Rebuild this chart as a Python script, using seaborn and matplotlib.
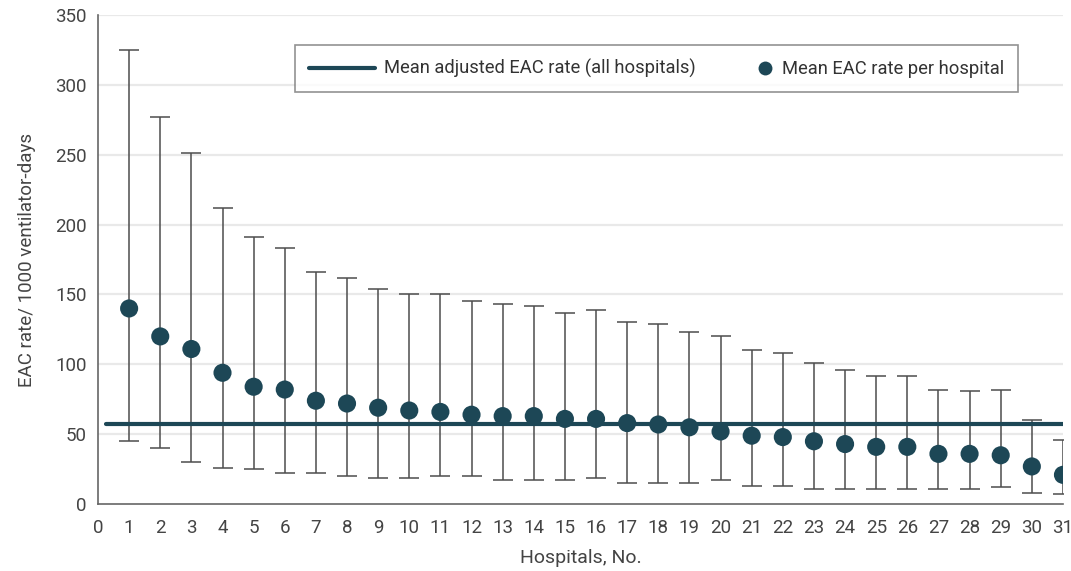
import numpy as np
import pandas as pd
import matplotlib
matplotlib.use("Agg")
import matplotlib.pyplot as plt
import seaborn as sns
from matplotlib.lines import Line2D
from matplotlib.legend_handler import HandlerLine2D

hospitals = list(range(1, 32))
mean_rate = [140, 120, 111, 94, 84, 82, 74, 72, 69, 67, 66, 64, 63, 63, 61, 61,
             58, 57, 55, 52, 49, 48, 45, 43, 41, 41, 36, 36, 35, 27, 21]
upper_ci = [325, 277, 251, 212, 191, 183, 166, 162, 154, 150, 150, 145, 143, 142, 137, 139,
            130, 129, 123, 120, 110, 108, 101, 96, 92, 92, 82, 81, 82, 60, 46]
lower_ci = [45, 40, 30, 26, 25, 22, 22, 20, 19, 19, 20, 20, 17, 17, 17, 19,
            15, 15, 15, 17, 13, 13, 11, 11, 11, 11, 11, 11, 12, 8, 7]
overall_mean = 57
xticks = list(range(0, 32))
yticks = [0, 50, 100, 150, 200, 250, 300, 350]

df = pd.DataFrame({"hospital": hospitals, "rate": mean_rate,
                   "lo": lower_ci, "hi": upper_ci})

sns.set_theme(style="white")
plt.rcParams['font.family'] = ['Roboto', 'DejaVu Sans']

teal = "#1d4756"
grey = "#4d4d4d"
txt = "#444444"


class RightMarkerHandler(HandlerLine2D):
    def create_artists(self, legend, orig_handle, xdescent, ydescent,
                       width, height, fontsize, trans):
        shift = width / 2 - 0.45 * fontsize
        return super().create_artists(legend, orig_handle, xdescent - shift, ydescent,
                                      width, height, fontsize, trans)


fig = plt.figure(figsize=(10.71, 5.71), dpi=100)
ax = fig.add_axes([0.0915, 0.117, 0.901, 0.857])

for y in yticks[1:]:
    ax.axhline(y, color="#e9e9e9", lw=1.6, zorder=0)

ax.errorbar(df["hospital"], df["rate"],
            yerr=[df["rate"] - df["lo"], df["hi"] - df["rate"]],
            fmt="none", ecolor=grey, elinewidth=1.1, capsize=7, capthick=1.1, zorder=2)

ax.axhline(overall_mean, xmin=0.008, xmax=1.0, color=teal, lw=3, zorder=3)

sns.scatterplot(data=df, x="hospital", y="rate", ax=ax, s=170, color=teal,
                edgecolor="none", zorder=4, legend=False)

ax.set_xlim(0, 31)
ax.set_ylim(0, 350)
ax.set_xticks(xticks)
ax.set_yticks(yticks)
ax.tick_params(axis="both", direction="out", length=5, width=1, color="#666666",
               labelsize=13.5, labelcolor=txt, pad=3)
ax.tick_params(axis="x", pad=6)
for s in ["top", "right"]:
    ax.spines[s].set_visible(False)
for s in ["left", "bottom"]:
    ax.spines[s].set_color("#666666")
    ax.spines[s].set_linewidth(1.2)

ax.set_xlabel("Hospitals, No.", fontsize=14, color=txt, labelpad=8)
ax.set_ylabel("EAC rate/ 1000 ventilator-days", fontsize=13.5, color=txt, labelpad=14)

line_handle = Line2D([0], [0], color=teal, lw=3)
dot_handle = Line2D([0], [0], marker="o", color="none", markerfacecolor=teal,
                    markeredgecolor="none", markersize=10)
labels = ["Mean adjusted EAC rate (all hospitals)", "Mean EAC rate per hospital"]
leg = ax.legend([line_handle, dot_handle], labels, loc="center",
                bbox_to_anchor=(0.579, 0.89), ncol=2,
                handler_map={dot_handle: RightMarkerHandler()},
                frameon=True, fancybox=False, fontsize=13.2, columnspacing=0.6,
                handlelength=3.6, handletextpad=0.5, borderpad=0.75,
                labelcolor="#333333")
leg.get_frame().set_edgecolor("#777777")
leg.get_frame().set_linewidth(1.2)

fig.savefig("out.png", dpi=100, facecolor="white")
